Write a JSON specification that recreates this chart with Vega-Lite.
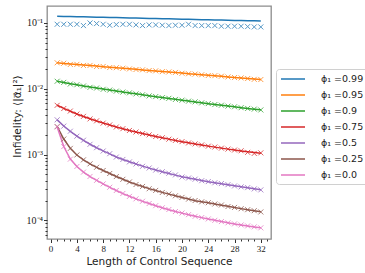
{
"$schema": "https://vega.github.io/schema/vega-lite/v6.json",
"width": 224, "height": 233,
"autosize": {"type": "none"},
"padding": {"left": 47, "top": 6, "right": 94, "bottom": 34},
"background": "white",
"config": {
  "view": {"stroke": "#8c8c8c", "strokeWidth": 1.3},
  "axis": {"domain": false, "grid": false, "tickColor": "#333333", "labelColor": "#222222", "titleColor": "#222222", "titleFontWeight": "normal"}
},
"data": {"values": [
{"L":1,"phi":"0.99","theory":0.1265,"sim":0.0955},{"L":2,"phi":"0.99","theory":0.1258,"sim":0.0955},{"L":3,"phi":"0.99","theory":0.1251,"sim":0.0955},{"L":4,"phi":"0.99","theory":0.1245,"sim":0.0955},{"L":5,"phi":"0.99","theory":0.1238,"sim":0.0912},{"L":6,"phi":"0.99","theory":0.1231,"sim":0.1000},{"L":7,"phi":"0.99","theory":0.1225,"sim":0.0978},{"L":8,"phi":"0.99","theory":0.1218,"sim":0.0955},{"L":9,"phi":"0.99","theory":0.1212,"sim":0.0923},{"L":10,"phi":"0.99","theory":0.1205,"sim":0.0945},{"L":11,"phi":"0.99","theory":0.1199,"sim":0.0955},{"L":12,"phi":"0.99","theory":0.1192,"sim":0.0955},{"L":13,"phi":"0.99","theory":0.1186,"sim":0.0934},{"L":14,"phi":"0.99","theory":0.1179,"sim":0.0912},{"L":15,"phi":"0.99","theory":0.1173,"sim":0.0934},{"L":16,"phi":"0.99","theory":0.1167,"sim":0.0934},{"L":17,"phi":"0.99","theory":0.1160,"sim":0.0923},{"L":18,"phi":"0.99","theory":0.1154,"sim":0.0912},{"L":19,"phi":"0.99","theory":0.1148,"sim":0.0923},{"L":20,"phi":"0.99","theory":0.1142,"sim":0.0923},{"L":21,"phi":"0.99","theory":0.1135,"sim":0.0955},{"L":22,"phi":"0.99","theory":0.1129,"sim":0.0912},{"L":23,"phi":"0.99","theory":0.1123,"sim":0.0912},{"L":24,"phi":"0.99","theory":0.1117,"sim":0.0912},{"L":25,"phi":"0.99","theory":0.1111,"sim":0.0912},{"L":26,"phi":"0.99","theory":0.1105,"sim":0.0891},{"L":27,"phi":"0.99","theory":0.1099,"sim":0.0891},{"L":28,"phi":"0.99","theory":0.1093,"sim":0.0891},{"L":29,"phi":"0.99","theory":0.1087,"sim":0.0891},{"L":30,"phi":"0.99","theory":0.1082,"sim":0.0881},{"L":31,"phi":"0.99","theory":0.1076,"sim":0.0870},{"L":32,"phi":"0.99","theory":0.1070,"sim":0.0870},
{"L":1,"phi":"0.95","theory":0.02474,"sim":0.02480},{"L":2,"phi":"0.95","theory":0.02428,"sim":0.02440},{"L":3,"phi":"0.95","theory":0.02382,"sim":0.02340},{"L":4,"phi":"0.95","theory":0.02338,"sim":0.02345},{"L":5,"phi":"0.95","theory":0.02294,"sim":0.02260},{"L":6,"phi":"0.95","theory":0.02251,"sim":0.02260},{"L":7,"phi":"0.95","theory":0.02209,"sim":0.02180},{"L":8,"phi":"0.95","theory":0.02168,"sim":0.02180},{"L":9,"phi":"0.95","theory":0.02127,"sim":0.02100},{"L":10,"phi":"0.95","theory":0.02087,"sim":0.02090},{"L":11,"phi":"0.95","theory":0.02048,"sim":0.02050},{"L":12,"phi":"0.95","theory":0.02010,"sim":0.02000},{"L":13,"phi":"0.95","theory":0.01972,"sim":0.01960},{"L":14,"phi":"0.95","theory":0.01935,"sim":0.01940},{"L":15,"phi":"0.95","theory":0.01899,"sim":0.01890},{"L":16,"phi":"0.95","theory":0.01864,"sim":0.01870},{"L":17,"phi":"0.95","theory":0.01829,"sim":0.01820},{"L":18,"phi":"0.95","theory":0.01795,"sim":0.01800},{"L":19,"phi":"0.95","theory":0.01761,"sim":0.01770},{"L":20,"phi":"0.95","theory":0.01728,"sim":0.01720},{"L":21,"phi":"0.95","theory":0.01696,"sim":0.01690},{"L":22,"phi":"0.95","theory":0.01664,"sim":0.01670},{"L":23,"phi":"0.95","theory":0.01633,"sim":0.01630},{"L":24,"phi":"0.95","theory":0.01602,"sim":0.01590},{"L":25,"phi":"0.95","theory":0.01572,"sim":0.01580},{"L":26,"phi":"0.95","theory":0.01543,"sim":0.01550},{"L":27,"phi":"0.95","theory":0.01514,"sim":0.01510},{"L":28,"phi":"0.95","theory":0.01486,"sim":0.01480},{"L":29,"phi":"0.95","theory":0.01458,"sim":0.01460},{"L":30,"phi":"0.95","theory":0.01431,"sim":0.01430},{"L":31,"phi":"0.95","theory":0.01404,"sim":0.01390},{"L":32,"phi":"0.95","theory":0.01378,"sim":0.01380},
{"L":1,"phi":"0.9","theory":0.013001,"sim":0.01300},{"L":2,"phi":"0.9","theory":0.012468,"sim":0.01250},{"L":3,"phi":"0.9","theory":0.011953,"sim":0.01180},{"L":4,"phi":"0.9","theory":0.011461,"sim":0.01150},{"L":5,"phi":"0.9","theory":0.011028,"sim":0.01100},{"L":6,"phi":"0.9","theory":0.010613,"sim":0.01050},{"L":7,"phi":"0.9","theory":0.010248,"sim":0.01025},{"L":8,"phi":"0.9","theory":0.009896,"sim":0.00980},{"L":9,"phi":"0.9","theory":0.009555,"sim":0.00955},{"L":10,"phi":"0.9","theory":0.009227,"sim":0.00920},{"L":11,"phi":"0.9","theory":0.008941,"sim":0.00890},{"L":12,"phi":"0.9","theory":0.008634,"sim":0.00866},{"L":13,"phi":"0.9","theory":0.008366,"sim":0.00835},{"L":14,"phi":"0.9","theory":0.008078,"sim":0.00810},{"L":15,"phi":"0.9","theory":0.007828,"sim":0.00778},{"L":16,"phi":"0.9","theory":0.007585,"sim":0.00760},{"L":17,"phi":"0.9","theory":0.007350,"sim":0.00732},{"L":18,"phi":"0.9","theory":0.007122,"sim":0.00715},{"L":19,"phi":"0.9","theory":0.006901,"sim":0.00688},{"L":20,"phi":"0.9","theory":0.006687,"sim":0.00670},{"L":21,"phi":"0.9","theory":0.006502,"sim":0.00648},{"L":22,"phi":"0.9","theory":0.006301,"sim":0.00632},{"L":23,"phi":"0.9","theory":0.006127,"sim":0.00610},{"L":24,"phi":"0.9","theory":0.005937,"sim":0.00595},{"L":25,"phi":"0.9","theory":0.005773,"sim":0.00575},{"L":26,"phi":"0.9","theory":0.005614,"sim":0.00562},{"L":27,"phi":"0.9","theory":0.005459,"sim":0.00545},{"L":28,"phi":"0.9","theory":0.005308,"sim":0.00532},{"L":29,"phi":"0.9","theory":0.005162,"sim":0.00515},{"L":30,"phi":"0.9","theory":0.005019,"sim":0.00502},{"L":31,"phi":"0.9","theory":0.004898,"sim":0.00490},{"L":32,"phi":"0.9","theory":0.004779,"sim":0.00476},
{"L":1,"phi":"0.75","theory":0.005614,"sim":0.00560},{"L":2,"phi":"0.75","theory":0.005036,"sim":0.00500},{"L":3,"phi":"0.75","theory":0.004550,"sim":0.00458},{"L":4,"phi":"0.75","theory":0.004140,"sim":0.00412},{"L":5,"phi":"0.75","theory":0.003794,"sim":0.00380},{"L":6,"phi":"0.75","theory":0.003500,"sim":0.00348},{"L":7,"phi":"0.75","theory":0.003241,"sim":0.00325},{"L":8,"phi":"0.75","theory":0.003011,"sim":0.00300},{"L":9,"phi":"0.75","theory":0.002808,"sim":0.00282},{"L":10,"phi":"0.75","theory":0.002627,"sim":0.00262},{"L":11,"phi":"0.75","theory":0.002467,"sim":0.00247},{"L":12,"phi":"0.75","theory":0.002324,"sim":0.00232},{"L":13,"phi":"0.75","theory":0.002198,"sim":0.00220},{"L":14,"phi":"0.75","theory":0.002085,"sim":0.00208},{"L":15,"phi":"0.75","theory":0.001979,"sim":0.00199},{"L":16,"phi":"0.75","theory":0.001884,"sim":0.00188},{"L":17,"phi":"0.75","theory":0.001794,"sim":0.00180},{"L":18,"phi":"0.75","theory":0.001714,"sim":0.00171},{"L":19,"phi":"0.75","theory":0.001638,"sim":0.00164},{"L":20,"phi":"0.75","theory":0.001570,"sim":0.00157},{"L":21,"phi":"0.75","theory":0.001506,"sim":0.00150},{"L":22,"phi":"0.75","theory":0.001449,"sim":0.00145},{"L":23,"phi":"0.75","theory":0.001394,"sim":0.00140},{"L":24,"phi":"0.75","theory":0.001342,"sim":0.00134},{"L":25,"phi":"0.75","theory":0.001296,"sim":0.00130},{"L":26,"phi":"0.75","theory":0.001251,"sim":0.00125},{"L":27,"phi":"0.75","theory":0.001208,"sim":0.00121},{"L":28,"phi":"0.75","theory":0.001171,"sim":0.00117},{"L":29,"phi":"0.75","theory":0.001134,"sim":0.00114},{"L":30,"phi":"0.75","theory":0.001103,"sim":0.00108},{"L":31,"phi":"0.75","theory":0.001073,"sim":0.00104},{"L":32,"phi":"0.75","theory":0.001047,"sim":0.00106},
{"L":1,"phi":"0.5","theory":0.003368,"sim":0.00337},{"L":2,"phi":"0.5","theory":0.002711,"sim":0.00270},{"L":3,"phi":"0.5","theory":0.002252,"sim":0.00226},{"L":4,"phi":"0.5","theory":0.001911,"sim":0.00190},{"L":5,"phi":"0.5","theory":0.001644,"sim":0.00165},{"L":6,"phi":"0.5","theory":0.001434,"sim":0.00143},{"L":7,"phi":"0.5","theory":0.001269,"sim":0.00127},{"L":8,"phi":"0.5","theory":0.001134,"sim":0.00113},{"L":9,"phi":"0.5","theory":0.001025,"sim":0.00103},{"L":10,"phi":"0.5","theory":0.000916,"sim":0.000915},{"L":11,"phi":"0.5","theory":0.000840,"sim":0.000842},{"L":12,"phi":"0.5","theory":0.000775,"sim":0.000772},{"L":13,"phi":"0.5","theory":0.000717,"sim":0.000718},{"L":14,"phi":"0.5","theory":0.000666,"sim":0.000662},{"L":15,"phi":"0.5","theory":0.000621,"sim":0.000624},{"L":16,"phi":"0.5","theory":0.000581,"sim":0.000580},{"L":17,"phi":"0.5","theory":0.000546,"sim":0.000548},{"L":18,"phi":"0.5","theory":0.000514,"sim":0.000520},{"L":19,"phi":"0.5","theory":0.000486,"sim":0.000490},{"L":20,"phi":"0.5","theory":0.000461,"sim":0.000455},{"L":21,"phi":"0.5","theory":0.000439,"sim":0.000440},{"L":22,"phi":"0.5","theory":0.000420,"sim":0.000422},{"L":23,"phi":"0.5","theory":0.000403,"sim":0.000400},{"L":24,"phi":"0.5","theory":0.000387,"sim":0.000388},{"L":25,"phi":"0.5","theory":0.000373,"sim":0.000372},{"L":26,"phi":"0.5","theory":0.000359,"sim":0.000362},{"L":27,"phi":"0.5","theory":0.000346,"sim":0.000348},{"L":28,"phi":"0.5","theory":0.000334,"sim":0.000333},{"L":29,"phi":"0.5","theory":0.000323,"sim":0.000322},{"L":30,"phi":"0.5","theory":0.000312,"sim":0.000314},{"L":31,"phi":"0.5","theory":0.000301,"sim":0.000300},{"L":32,"phi":"0.5","theory":0.000291,"sim":0.000290},
{"L":1,"phi":"0.25","theory":0.002664,"sim":0.00266},{"L":2,"phi":"0.25","theory":0.001721,"sim":0.00172},{"L":3,"phi":"0.25","theory":0.001242,"sim":0.00124},{"L":4,"phi":"0.25","theory":0.000983,"sim":0.000985},{"L":5,"phi":"0.25","theory":0.000831,"sim":0.000830},{"L":6,"phi":"0.25","theory":0.000722,"sim":0.000722},{"L":7,"phi":"0.25","theory":0.000639,"sim":0.000640},{"L":8,"phi":"0.25","theory":0.000571,"sim":0.000572},{"L":9,"phi":"0.25","theory":0.000514,"sim":0.000515},{"L":10,"phi":"0.25","theory":0.000463,"sim":0.000462},{"L":11,"phi":"0.25","theory":0.000420,"sim":0.000420},{"L":12,"phi":"0.25","theory":0.000382,"sim":0.000383},{"L":13,"phi":"0.25","theory":0.000352,"sim":0.000350},{"L":14,"phi":"0.25","theory":0.000326,"sim":0.000327},{"L":15,"phi":"0.25","theory":0.000303,"sim":0.000302},{"L":16,"phi":"0.25","theory":0.000284,"sim":0.000285},{"L":17,"phi":"0.25","theory":0.000266,"sim":0.000265},{"L":18,"phi":"0.25","theory":0.000250,"sim":0.000251},{"L":19,"phi":"0.25","theory":0.000236,"sim":0.000236},{"L":20,"phi":"0.25","theory":0.000222,"sim":0.000223},{"L":21,"phi":"0.25","theory":0.000211,"sim":0.000210},{"L":22,"phi":"0.25","theory":0.000199,"sim":0.000200},{"L":23,"phi":"0.25","theory":0.000192,"sim":0.000191},{"L":24,"phi":"0.25","theory":0.000185,"sim":0.000185},{"L":25,"phi":"0.25","theory":0.000177,"sim":0.000177},{"L":26,"phi":"0.25","theory":0.000170,"sim":0.000171},{"L":27,"phi":"0.25","theory":0.000163,"sim":0.000162},{"L":28,"phi":"0.25","theory":0.0001565,"sim":0.000157},{"L":29,"phi":"0.25","theory":0.0001506,"sim":0.000150},{"L":30,"phi":"0.25","theory":0.0001449,"sim":0.000145},{"L":31,"phi":"0.25","theory":0.0001394,"sim":0.000140},{"L":32,"phi":"0.25","theory":0.0001346,"sim":0.000134},
{"L":1,"phi":"0.0","theory":0.002618,"sim":0.00262},{"L":2,"phi":"0.0","theory":0.001323,"sim":0.00132},{"L":3,"phi":"0.0","theory":0.000854,"sim":0.000850},{"L":4,"phi":"0.0","theory":0.000657,"sim":0.000658},{"L":5,"phi":"0.0","theory":0.000542,"sim":0.000540},{"L":6,"phi":"0.0","theory":0.000463,"sim":0.000464},{"L":7,"phi":"0.0","theory":0.000405,"sim":0.000405},{"L":8,"phi":"0.0","theory":0.000359,"sim":0.000358},{"L":9,"phi":"0.0","theory":0.000317,"sim":0.000318},{"L":10,"phi":"0.0","theory":0.000284,"sim":0.000284},{"L":11,"phi":"0.0","theory":0.000255,"sim":0.000256},{"L":12,"phi":"0.0","theory":0.000232,"sim":0.000231},{"L":13,"phi":"0.0","theory":0.000212,"sim":0.000212},{"L":14,"phi":"0.0","theory":0.000194,"sim":0.000195},{"L":15,"phi":"0.0","theory":0.000180,"sim":0.000180},{"L":16,"phi":"0.0","theory":0.000167,"sim":0.000167},{"L":17,"phi":"0.0","theory":0.000155,"sim":0.000155},{"L":18,"phi":"0.0","theory":0.000145,"sim":0.000146},{"L":19,"phi":"0.0","theory":0.0001365,"sim":0.000136},{"L":20,"phi":"0.0","theory":0.0001287,"sim":0.000129},{"L":21,"phi":"0.0","theory":0.0001217,"sim":0.000122},{"L":22,"phi":"0.0","theory":0.0001154,"sim":0.000115},{"L":23,"phi":"0.0","theory":0.0001099,"sim":0.000110},{"L":24,"phi":"0.0","theory":0.0001047,"sim":0.000105},{"L":25,"phi":"0.0","theory":0.0001000,"sim":0.000100},{"L":26,"phi":"0.0","theory":0.0000956,"sim":0.0000957},{"L":27,"phi":"0.0","theory":0.0000916,"sim":0.0000915},{"L":28,"phi":"0.0","theory":0.0000882,"sim":0.0000883},{"L":29,"phi":"0.0","theory":0.0000851,"sim":0.0000850},{"L":30,"phi":"0.0","theory":0.0000822,"sim":0.0000822},{"L":31,"phi":"0.0","theory":0.0000794,"sim":0.0000795},{"L":32,"phi":"0.0","theory":0.0000769,"sim":0.0000768}
]},
"encoding": {
  "x": {"field": "L", "type": "quantitative",
    "scale": {"domain": [-0.55, 33.55], "nice": false, "zero": false},
    "axis": {"values": [0,1,2,3,4,5,6,7,8,9,10,11,12,13,14,15,16,17,18,19,20,21,22,23,24,25,26,27,28,29,30,31,32,33],
      "labelExpr": "datum.value % 4 == 0 ? datum.label : ''",
      "tickSize": {"condition": {"test": "datum.value % 4 == 0", "value": 3.5}, "value": 2},
      "labelOverlap": false, "labelFlush": false,
      "labelFont": "Liberation Serif", "labelFontSize": 9, "labelPadding": 1.5,
      "title": "Length of Control Sequence", "titleFont": "DejaVu Sans", "titleFontSize": 10.5, "titlePadding": 3}}
},
"layer": [
  {"mark": {"type": "line", "strokeWidth": 1.5, "clip": true},
   "encoding": {
     "y": {"field": "theory", "type": "quantitative",
       "scale": {"type": "log", "domain": [0.000052, 0.181], "nice": false},
       "axis": {"values": [0.00006,0.00007,0.00008,0.00009,0.0001,0.0002,0.0003,0.0004,0.0005,0.0006,0.0007,0.0008,0.0009,0.001,0.002,0.003,0.004,0.005,0.006,0.007,0.008,0.009,0.01,0.02,0.03,0.04,0.05,0.06,0.07,0.08,0.09,0.1],
         "labelExpr": "datum.value == 0.1 ? '10⁻¹' : datum.value == 0.01 ? '10⁻²' : datum.value == 0.001 ? '10⁻³' : datum.value == 0.0001 ? '10⁻⁴' : ''",
         "tickSize": {"condition": {"test": "datum.value == 0.1 || datum.value == 0.01 || datum.value == 0.001 || datum.value == 0.0001", "value": 3.5}, "value": 2},
         "labelOverlap": false, "labelFlush": false,
         "labelFont": "Liberation Serif", "labelFontSize": 10, "labelPadding": 1,
         "title": "Infidelity: ⟨|α⃗₁|²⟩", "titleFont": "DejaVu Sans", "titleFontSize": 10.5, "titlePadding": 4, "titleY": 110}},
     "color": {"field": "phi", "type": "nominal",
       "scale": {"domain": ["0.99","0.95","0.9","0.75","0.5","0.25","0.0"], "range": ["#1f77b4","#ff7f0e","#2ca02c","#d62728","#9467bd","#8c564b","#e377c2"]},
       "legend": {"orient": "none", "legendX": 229, "legendY": 63, "title": null,
         "symbolType": "M-2.4,0H2.4", "symbolStrokeWidth": 1.5, "symbolSize": 100, "symbolOffset": 7,
         "labelExpr": "'ϕ₁ =' + datum.label", "labelFont": "DejaVu Sans", "labelFontSize": 9.5, "labelColor": "#222222",
         "strokeColor": "#d0d0d0", "fillColor": "white", "cornerRadius": 3, "padding": 4, "rowPadding": 5, "labelOffset": 22}}
   }},
  {"mark": {"type": "point", "shape": "M-1,-1L1,1M-1,1L1,-1", "filled": false, "size": 25, "strokeWidth": 1, "opacity": 0.75, "clip": true},
   "encoding": {
     "y": {"field": "sim", "type": "quantitative",
       "scale": {"type": "log", "domain": [0.000052, 0.181], "nice": false},
       "axis": {"values": [0.00006,0.00007,0.00008,0.00009,0.0001,0.0002,0.0003,0.0004,0.0005,0.0006,0.0007,0.0008,0.0009,0.001,0.002,0.003,0.004,0.005,0.006,0.007,0.008,0.009,0.01,0.02,0.03,0.04,0.05,0.06,0.07,0.08,0.09,0.1],
         "labelExpr": "datum.value == 0.1 ? '10⁻¹' : datum.value == 0.01 ? '10⁻²' : datum.value == 0.001 ? '10⁻³' : datum.value == 0.0001 ? '10⁻⁴' : ''",
         "tickSize": {"condition": {"test": "datum.value == 0.1 || datum.value == 0.01 || datum.value == 0.001 || datum.value == 0.0001", "value": 3.5}, "value": 2},
         "labelOverlap": false, "labelFlush": false,
         "labelFont": "Liberation Serif", "labelFontSize": 10, "labelPadding": 1,
         "title": "Infidelity: ⟨|α⃗₁|²⟩", "titleFont": "DejaVu Sans", "titleFontSize": 10.5, "titlePadding": 4, "titleY": 110}},
     "stroke": {"field": "phi", "type": "nominal",
       "scale": {"domain": ["0.99","0.95","0.9","0.75","0.5","0.25","0.0"], "range": ["#1f77b4","#ff7f0e","#2ca02c","#d62728","#9467bd","#8c564b","#e377c2"]},
       "legend": null}
   }}
]
}
